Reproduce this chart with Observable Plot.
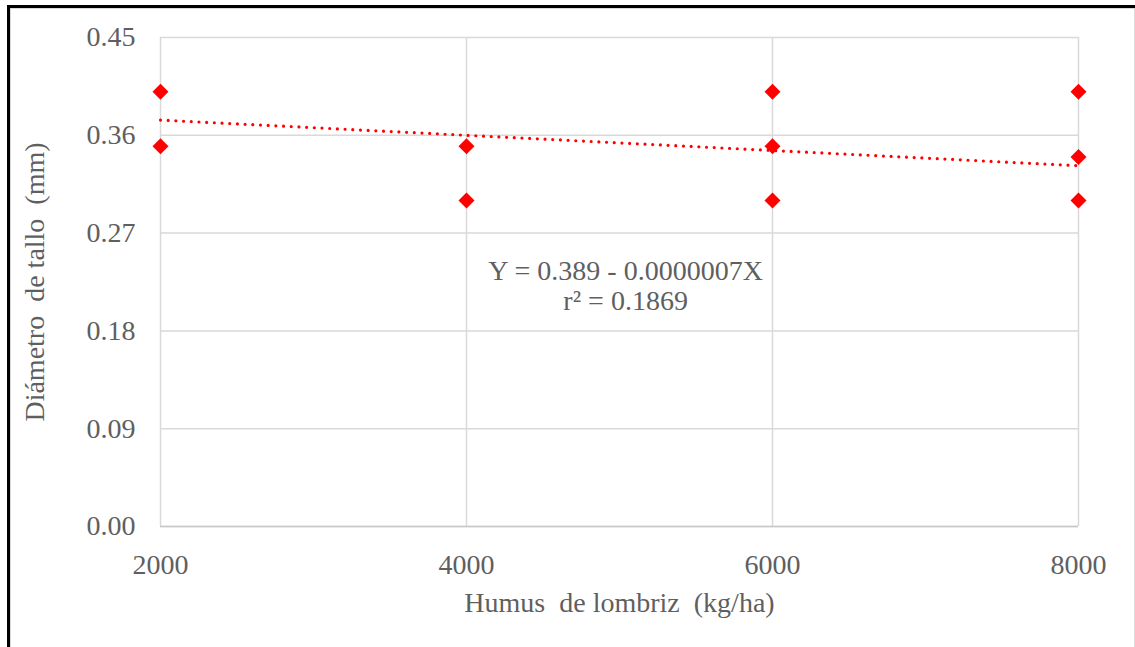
<!DOCTYPE html>
<html>
<head>
<meta charset="utf-8">
<script src="https://cdn.jsdelivr.net/npm/d3@7"></script>
<script src="https://cdn.jsdelivr.net/npm/@observablehq/plot@0.6"></script>
<style>
  html, body { margin: 0; padding: 0; background: #fff; }
  #wrap { position: relative; width: 1135px; height: 647px; overflow: hidden; }
  #frame { position: absolute; left: 7px; top: 5px; width: 1140px; height: 660px;
           border-left: 3px solid #000; border-top: 3px solid #000; box-sizing: border-box; }
  #inner { position: absolute; left: 10px; top: 8px; width: 1125px; height: 660px;
           border-left: 1px solid #d9d9d9; border-top: 1px solid #d9d9d9; border-right: 1px solid #d9d9d9; box-sizing: border-box; }
  #chart { position: absolute; left: 0; top: 0; }
  #chart svg, #chart svg text { font-family: "Liberation Serif", "Times New Roman", serif !important; }
</style>
</head>
<body>
<div id="wrap">
  <div id="chart"></div>
  <div id="frame"></div>
  <div id="inner"></div>
</div>
<script>
// Data
const humus    = [2000, 2000, 4000, 4000, 6000, 6000, 6000, 8000, 8000, 8000];
const diametro = [0.40, 0.35, 0.35, 0.30, 0.40, 0.35, 0.30, 0.40, 0.34, 0.30];
const trendX = [2000, 8000];
const trendY = [0.374, 0.332];
const xTicks = [2000, 4000, 6000, 8000];
const yTicks = [0, 0.09, 0.18, 0.27, 0.36, 0.45];
const equationText = "Y = 0.389 - 0.0000007X\nr² = 0.1869";
const xLabel = "Humus  de lombriz  (kg/ha)";
const yLabel = "Diámetro  de tallo  (mm)";

const points = humus.map((x, i) => ({x, y: diametro[i]}));
const trend = trendX.map((x, i) => ({x, y: trendY[i]}));

const FS = 28;
const FF = "Liberation Serif";
const plot = Plot.plot({
  width: 1135,
  height: 647,
  marginLeft: 160,
  marginRight: 57,
  marginTop: 37,
  marginBottom: 121,
  style: {fontSize: FS + "px", color: "#5f5f5f", background: "transparent"},
  x: {domain: [2000, 8000]},
  y: {domain: [0, 0.45]},
  marks: [
    Plot.gridY(yTicks, {stroke: "#d9d9d9", strokeOpacity: 1, strokeWidth: 1.5}),
    Plot.gridX(xTicks, {stroke: "#d9d9d9", strokeOpacity: 1, strokeWidth: 1.5}),
    Plot.ruleY([0], {stroke: "#c8c8c8", strokeWidth: 1.5}),
    Plot.axisY({ticks: yTicks, tickSize: 0, tickPadding: 25, tickFormat: d3.format(".2f"), label: null, fontFamily: FF}),
    Plot.axisX({ticks: xTicks, tickSize: 0, tickPadding: 28, tickFormat: d => String(d), label: null, fontFamily: FF}),
    Plot.line(trend, {x: "x", y: "y", stroke: "#ff0000", strokeWidth: 3.2, strokeDasharray: "0,7.7", strokeLinecap: "round"}),
    Plot.dot(points, {x: "x", y: "y", symbol: "diamond2", r: 7.2, fill: "#ff0000", stroke: "none"}),
    Plot.text([equationText], {x: 5040, y: 0.222, text: d => d, fill: "#5f5f5f", fontSize: FS, fontFamily: FF, lineHeight: 1.08, textAnchor: "middle"}),
    Plot.text([xLabel], {frameAnchor: "bottom", dy: 85, text: d => d, fill: "#5f5f5f", fontSize: FS, fontFamily: FF, textAnchor: "middle"}),
    Plot.text([yLabel], {frameAnchor: "left", dx: -125, rotate: -90, text: d => d, fill: "#5f5f5f", fontSize: FS, fontFamily: FF, textAnchor: "middle"})
  ]
});
document.getElementById("chart").appendChild(plot);
</script>
</body>
</html>
